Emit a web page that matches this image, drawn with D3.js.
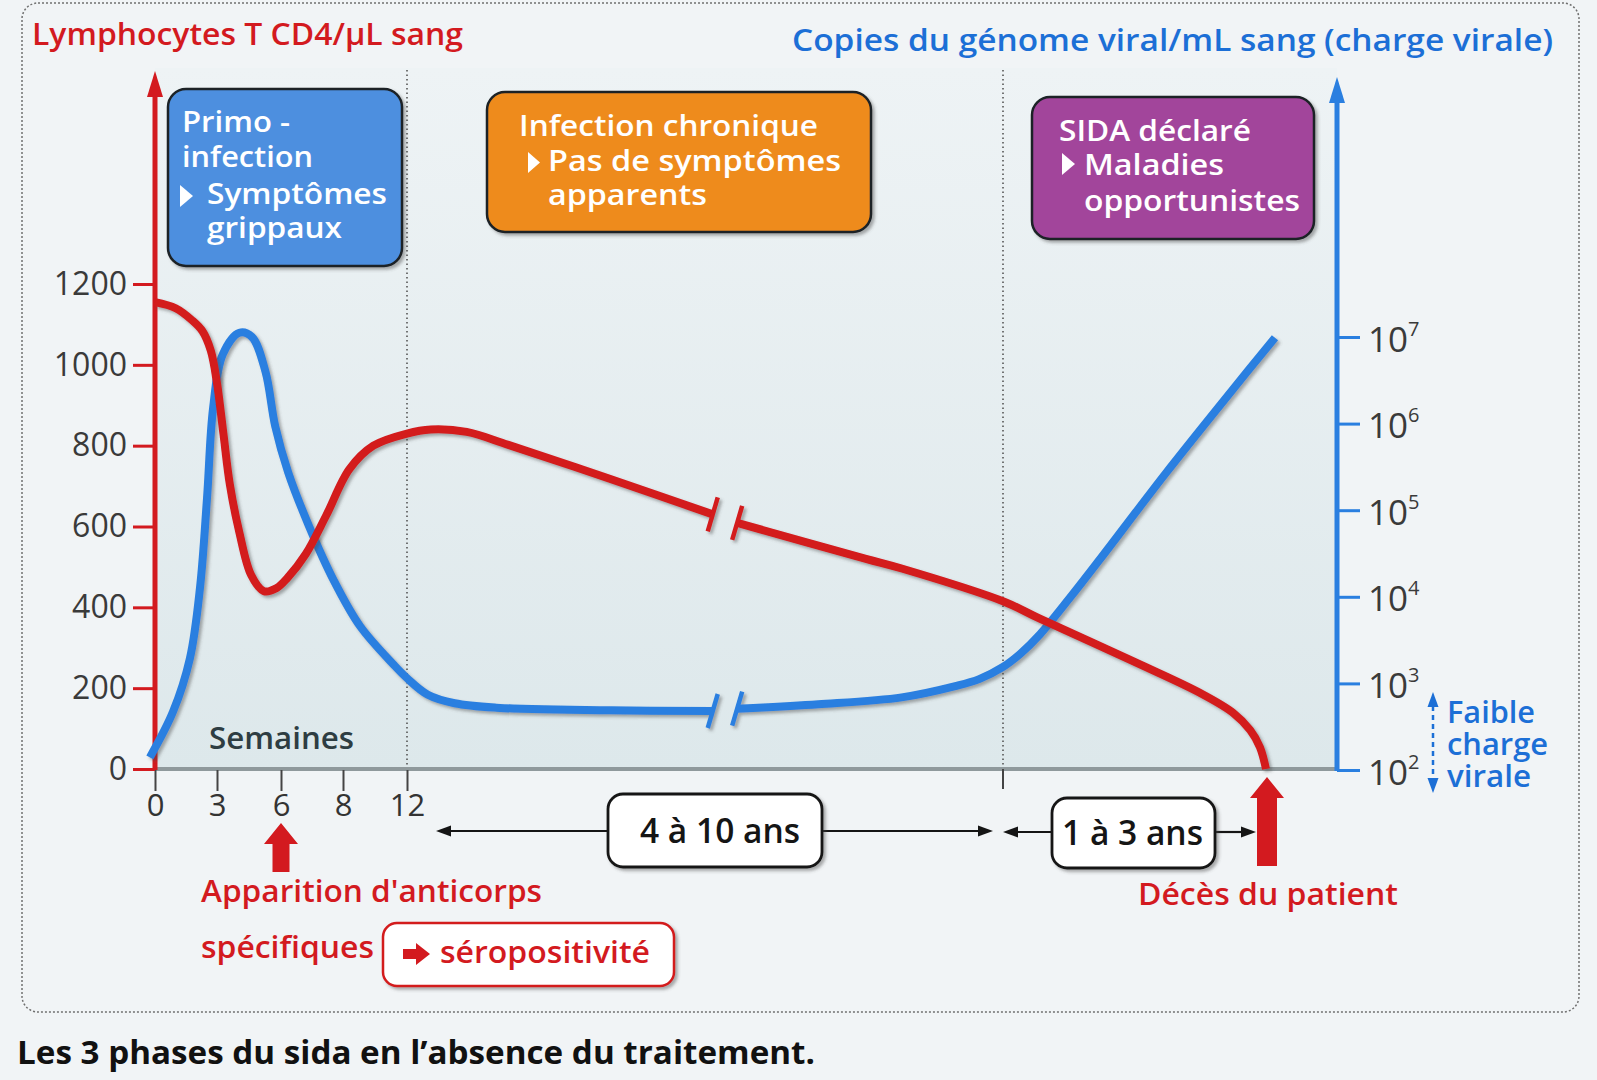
<!DOCTYPE html>
<html>
<head>
<meta charset="utf-8">
<script src="https://cdn.jsdelivr.net/npm/d3@7"></script>
<style>
  body { margin: 0; background: #f1f4f6; }
  svg { display: block; }
  text { font-family: "Open Sans", "Noto Sans", sans-serif; }
</style>
</head>
<body>
<svg id="chart" width="1597" height="1080"></svg>
<script>
// ---- data ----
const weekTicks = [0, 3, 6, 8, 12];
const cd4Ticks = [0, 200, 400, 600, 800, 1000, 1200];
const viralTicks = [1e2, 1e3, 1e4, 1e5, 1e6, 1e7];

// CD4 T cells / µL : primo-infection in weeks, then chronic and AIDS phases as fraction of the phase
const cd4Primo = [[0, 1155], [1, 1140], [1.8, 1110], [2.3, 1083], [2.7, 1035], [3, 955], [3.3, 830],
  [3.6, 705], [4.05, 585], [4.6, 480], [5.2, 440], [5.8, 448], [6.2, 472], [6.8, 532], [7.45, 626],
  [8.4, 742], [9.9, 800], [12, 830]];
const cd4Chronic = [[0.04, 840], [0.1, 834], [0.17, 802], [0.34, 718], [0.513, 630],
  [0.554, 609], [0.77, 520], [0.83, 496], [1, 415]];
const cd4Aids = [[0.14, 372], [0.49, 268], [0.75, 188], [0.875, 139], [0.94, 96], [0.977, 54], [1, 0]];

// viral load, copies / mL
const viralPrimo = [[-0.25, 140], [0.87, 470], [1.69, 1950], [2.18, 12900], [2.52, 141000], [2.81, 1.5e6],
  [3.27, 6.3e6], [4.05, 1.12e7], [4.64, 1e7], [5.27, 4e6], [5.73, 9.3e5], [6.23, 2.75e5], [6.9, 6.6e4],
  [7.7, 1.55e4], [9.06, 4600], [11.2, 1620], [12, 1150]];
const viralChronic = [[0.035, 740], [0.08, 590], [0.15, 525], [0.34, 490], [0.513, 480],
  [0.554, 510], [0.69, 575], [0.83, 690], [0.92, 930], [0.96, 1120], [1, 1550]];
const viralAids = [[0.065, 2190], [0.141, 3700], [0.255, 9800], [0.37, 27500], [0.62, 270000],
  [0.87, 2.4e6], [1.034, 9.8e6]];

// axis break in the chronic phase (fraction of the phase)
const breakFrom = 0.513;
const breakTo = 0.554;

const red = "#d31a1f";
const blue = "#2a7fe0";
const blueText = "#1c6fd6";

// ---- scales ----
const xWeeks = d3.scaleLinear().domain(weekTicks).range([155, 217, 281, 343, 407]);
const xChronic = d3.scaleLinear().domain([0, 1]).range([407, 1003]);
const xAids = d3.scaleLinear().domain([0, 1]).range([1003, 1266]);
const yCD4 = d3.scaleLinear().domain([0, 1200]).range([769, 284]);
const yViral = d3.scaleLog().domain([1e2, 1e7]).range([770, 337]);

const svg = d3.select("#chart");
const defs = svg.append("defs");

defs.append("filter")
  .attr("id", "shadow")
  .attr("x", "-10%").attr("y", "-10%").attr("width", "130%").attr("height", "130%")
  .append("feDropShadow")
  .attr("dx", 2.5).attr("dy", 2.5).attr("stdDeviation", 1.6)
  .attr("flood-color", "#4a4a4a").attr("flood-opacity", 0.45);

const grad = defs.append("linearGradient")
  .attr("id", "plotBg").attr("x1", 0).attr("y1", 0).attr("x2", 0).attr("y2", 1);
grad.append("stop").attr("offset", "0%").attr("stop-color", "#eef3f5");
grad.append("stop").attr("offset", "100%").attr("stop-color", "#dde8eb");

function label(str, x, y, size, color, width, weight) {
  const t = svg.append("text")
    .attr("x", x).attr("y", y)
    .attr("font-size", size)
    .attr("font-weight", weight || 600)
    .attr("fill", color)
    .text(str);
  if (width) t.attr("textLength", width).attr("lengthAdjust", "spacingAndGlyphs");
  return t;
}

function arrowHead(x, y, dir, len, half, color) {
  // dir: "up", "down", "left", "right" ; (x, y) is the tip
  let p;
  if (dir === "up") p = [[x, y], [x - half, y + len], [x + half, y + len]];
  if (dir === "down") p = [[x, y], [x - half, y - len], [x + half, y - len]];
  if (dir === "left") p = [[x, y], [x + len, y - half], [x + len, y + half]];
  if (dir === "right") p = [[x, y], [x - len, y - half], [x - len, y + half]];
  svg.append("path").attr("d", "M" + p.join("L") + "Z").attr("fill", color);
}

// frame and plot background
svg.append("rect")
  .attr("x", 22).attr("y", 3).attr("width", 1557).attr("height", 1009).attr("rx", 16)
  .attr("fill", "none").attr("stroke", "#707070").attr("stroke-width", 1.5)
  .attr("stroke-dasharray", "2 2");

svg.append("rect")
  .attr("x", xWeeks(0)).attr("y", 68)
  .attr("width", 1337 - xWeeks(0)).attr("height", yCD4(0) - 68)
  .attr("fill", "url(#plotBg)");

// phase separators
[xWeeks(12), xChronic(1)].forEach(x => {
  svg.append("line")
    .attr("x1", x).attr("x2", x).attr("y1", 70).attr("y2", yCD4(0))
    .attr("stroke", "#555").attr("stroke-width", 1.6).attr("stroke-dasharray", "1.5 3");
});

// ---- phase boxes ----
function phaseBox(x0, y0, x1, y1, fill) {
  svg.append("rect")
    .attr("x", x0).attr("y", y0).attr("width", x1 - x0).attr("height", y1 - y0).attr("rx", 18)
    .attr("fill", fill).attr("stroke", "#1d2327").attr("stroke-width", 2.5)
    .attr("filter", "url(#shadow)");
}
function bullet(x, yTop, w, h) {
  svg.append("path")
    .attr("d", `M${x},${yTop}L${x + w},${yTop + h / 2}L${x},${yTop + h}Z`)
    .attr("fill", "#fff");
}

phaseBox(168, 89, 402, 266, "#4d8fdf");
label("Primo -", 182, 132, 28, "#fff", 108);
label("infection", 182, 167, 28, "#fff", 131);
bullet(180, 185, 13, 22);
label("Symptômes", 207, 204, 28, "#fff", 180);
label("grippaux", 207, 238, 28, "#fff", 135);

phaseBox(487, 92, 871, 232, "#ee8b1f");
label("Infection chronique", 519, 136, 28, "#fff", 299);
bullet(528, 152, 12, 21);
label("Pas de symptômes", 548, 171, 28, "#fff", 293);
label("apparents", 548, 205, 28, "#fff", 159);

phaseBox(1032, 97, 1314, 239, "#a2459b");
label("SIDA déclaré", 1059, 141, 28, "#fff", 192);
bullet(1062, 153, 13, 22);
label("Maladies", 1084, 175, 28, "#fff", 140);
label("opportunistes", 1084, 211, 28, "#fff", 216);

// ---- axes ----
// x baseline
svg.append("line")
  .attr("x1", xWeeks(0)).attr("x2", 1337).attr("y1", yCD4(0)).attr("y2", yCD4(0))
  .attr("stroke", "#8f999c").attr("stroke-width", 4);

const xAxis = svg.append("g")
  .attr("transform", `translate(0,${yCD4(0) + 1})`)
  .call(d3.axisBottom(xWeeks).tickValues(weekTicks).tickSize(21).tickSizeOuter(0));
xAxis.select(".domain").remove();
xAxis.selectAll(".tick line").attr("stroke", "#444").attr("stroke-width", 2);
xAxis.selectAll(".tick text")
  .attr("y", 46).attr("dy", 0)
  .attr("font-size", 31).attr("fill", "#333")
  .attr("font-family", "Open Sans, sans-serif");

svg.append("line")
  .attr("x1", xChronic(1)).attr("x2", xChronic(1)).attr("y1", yCD4(0)).attr("y2", yCD4(0) + 20)
  .attr("stroke", "#444").attr("stroke-width", 2);

label("Semaines", 209, 749, 31, "#2e3d42", 145);

// left axis (CD4)
const leftAxis = svg.append("g")
  .attr("transform", `translate(${xWeeks(0)},0)`)
  .call(d3.axisLeft(yCD4).tickValues(cd4Ticks).tickFormat(d3.format("d"))
    .tickSize(22).tickPadding(6).tickSizeOuter(0));
leftAxis.select(".domain").remove();
leftAxis.selectAll(".tick line").attr("stroke", red).attr("stroke-width", 3);
leftAxis.selectAll(".tick text")
  .attr("font-size", 32).attr("fill", "#3a3a3a")
  .attr("font-family", "Open Sans, sans-serif");

svg.append("line")
  .attr("x1", xWeeks(0)).attr("x2", xWeeks(0)).attr("y1", yCD4(0) + 1).attr("y2", 92)
  .attr("stroke", red).attr("stroke-width", 5);
arrowHead(xWeeks(0), 71, "up", 26, 8, red);

// right axis (viral load, log)
const rightAxis = svg.append("g")
  .attr("transform", "translate(1337,0)")
  .call(d3.axisRight(yViral).tickValues(viralTicks).tickSize(23).tickPadding(8)
    .tickFormat(() => "").tickSizeOuter(0));
rightAxis.select(".domain").remove();
rightAxis.selectAll(".tick line").attr("stroke", blue).attr("stroke-width", 3);
rightAxis.selectAll(".tick text")
  .attr("font-size", 35).attr("fill", "#3a3a3a").attr("dy", "0.4em")
  .attr("font-family", "Open Sans, sans-serif")
  .each(function (d) {
    const t = d3.select(this);
    t.append("tspan").text("10");
    t.append("tspan").attr("dy", -16).attr("font-size", 20).text(Math.round(Math.log10(d)));
  });

svg.append("line")
  .attr("x1", 1337).attr("x2", 1337).attr("y1", yViral(1e2) + 1).attr("y2", 98)
  .attr("stroke", blue).attr("stroke-width", 5);
arrowHead(1337, 77, "up", 26, 8, blue);

// axis titles
label("Lymphocytes T CD4/µL sang", 32, 45, 31, red, 431);
label("Copies du génome viral/mL sang (charge virale)", 792, 51, 31, blueText, 761);

// ---- curves ----
function toPixels(primo, chronic, aids, y) {
  return [
    ...primo.map(d => [xWeeks(d[0]), y(d[1]), "p"]),
    ...chronic.map(d => [xChronic(d[0]), y(d[1]), "c", d[0]]),
    ...aids.map(d => [xAids(d[0]), y(d[1]), "a"])
  ];
}

const line = d3.line().x(d => d[0]).y(d => d[1]).curve(d3.curveCatmullRom.alpha(0.5));

function drawCurve(points, color) {
  const before = points.filter(d => d[2] === "p" || (d[2] === "c" && d[3] <= breakFrom));
  const after = points.filter(d => d[2] === "a" || (d[2] === "c" && d[3] >= breakTo));
  const g = svg.append("g").attr("filter", "url(#shadow)");
  [before, after].forEach(seg => {
    g.append("path")
      .attr("d", line(seg))
      .attr("fill", "none").attr("stroke", color)
      .attr("stroke-width", 8).attr("stroke-linejoin", "round");
  });
  // break slashes
  [before[before.length - 1], after[0]].forEach(p => {
    g.append("line")
      .attr("x1", p[0] + 5).attr("y1", p[1] - 17)
      .attr("x2", p[0] - 5).attr("y2", p[1] + 17)
      .attr("stroke", color).attr("stroke-width", 4.5);
  });
}

drawCurve(toPixels(viralPrimo, viralChronic, viralAids, yViral), blue);
drawCurve(toPixels(cd4Primo, cd4Chronic, cd4Aids, yCD4), red);

// ---- low viral load note ----
svg.append("line")
  .attr("x1", 1433).attr("x2", 1433).attr("y1", 706).attr("y2", 780)
  .attr("stroke", blueText).attr("stroke-width", 2.5).attr("stroke-dasharray", "5 4");
arrowHead(1433, 692, "up", 15, 5.5, blueText);
arrowHead(1433, 793, "down", 15, 5.5, blueText);
label("Faible", 1447, 723, 30, blueText, 88);
label("charge", 1447, 755, 30, blueText, 101);
label("virale", 1447, 787, 30, blueText, 84);

// ---- duration arrows ----
function durationBox(x0, y0, x1, y1, str, tx, tw, ty) {
  svg.append("rect")
    .attr("x", x0).attr("y", y0).attr("width", x1 - x0).attr("height", y1 - y0).attr("rx", 15)
    .attr("fill", "#fff").attr("stroke", "#151515").attr("stroke-width", 2.8)
    .attr("filter", "url(#shadow)");
  label(str, tx, ty, 35, "#151515", tw);
}
function hArrow(xFrom, xTip, y) {
  const dir = xTip < xFrom ? "left" : "right";
  const back = dir === "left" ? 13 : -13;
  svg.append("line")
    .attr("x1", xFrom).attr("x2", xTip + back).attr("y1", y).attr("y2", y)
    .attr("stroke", "#151515").attr("stroke-width", 2.2);
  arrowHead(xTip, y, dir, 15, 5.5, "#151515");
}

hArrow(608, 436, 831);
hArrow(822, 993, 831);
durationBox(608, 794, 822, 867, "4 à 10 ans", 640, 160, 843);
hArrow(1052, 1003, 832);
hArrow(1215, xAids(1) - 10, 832);
durationBox(1052, 798, 1215, 868, "1 à 3 ans", 1062, 141, 845);

// ---- antibody and death markers ----
function fatArrow(x, tip, bottom, half, shaft) {
  svg.append("path")
    .attr("d", `M${x},${tip}L${x + half},${tip + 21}L${x + shaft},${tip + 21}L${x + shaft},${bottom}` +
      `L${x - shaft},${bottom}L${x - shaft},${tip + 21}L${x - half},${tip + 21}Z`)
    .attr("fill", red);
}
fatArrow(xWeeks(6), 823, 872, 17, 8.5);
label("Apparition d'anticorps", 201, 902, 31, red, 341);
label("spécifiques", 201, 958, 31, red, 173);

svg.append("rect")
  .attr("x", 383).attr("y", 923).attr("width", 291).attr("height", 63).attr("rx", 14)
  .attr("fill", "#fff").attr("stroke", red).attr("stroke-width", 2.5)
  .attr("filter", "url(#shadow)");
svg.append("path")
  .attr("d", "M403,949L416,949L416,943L430,954L416,965L416,959L403,959Z")
  .attr("fill", red);
label("séropositivité", 440, 963, 31, red, 210);

fatArrow(xAids(1) + 1, 777, 866, 17, 10);
label("Décès du patient", 1138, 905, 31, red, 260);

// caption
label("Les 3 phases du sida en l’absence du traitement.", 17, 1064, 33, "#111", 798, 700);
</script>
</body>
</html>
